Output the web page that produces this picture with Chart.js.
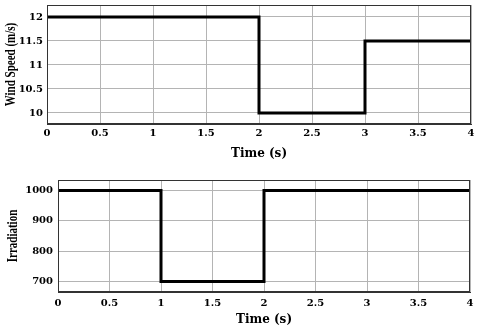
<!DOCTYPE html>
<html>
<head>
<meta charset="utf-8">
<script src="https://cdn.jsdelivr.net/npm/chart.js@4"></script>
<style>
  body { margin: 0; background: #fff; }
  .box { position: absolute; left: 0; width: 480px; }
</style>
</head>
<body>
<div class="box" style="top:0;height:165px"><canvas id="windChart"></canvas></div>
<div class="box" style="top:170px;height:158px"><canvas id="irrChart"></canvas></div>
<script>
// step profiles (time in s)
let windTimes = [0, 2, 2, 3, 3, 4];
let windSpeed = [12, 12, 10, 10, 11.5, 11.5];
let irrTimes = [0, 1, 1, 2, 2, 4];
let irradiation = [1000, 1000, 700, 700, 1000, 1000];
let timeTicks = [0, 0.5, 1, 1.5, 2, 2.5, 3, 3.5, 4];

function toPoints(xs, ys){
  let pts = [];
  for(let i = 0; i < xs.length; i++){
    pts.push({x: xs[i], y: ys[i]});
  }
  return pts;
}

let tickFont = {family: 'DejaVu Serif', weight: 'bold', size: 10};
let titleFont = {family: 'DejaVu Serif', weight: 'bold', size: 12};

// y title drawn by hand so it can be stretched like the original picture
let yTitle = {
  id: 'yTitle',
  afterDraw: function(c, args, opts){
    let a = c.chartArea, ctx = c.ctx;
    ctx.save();
    ctx.translate(opts.x, (a.top + a.bottom) / 2);
    ctx.rotate(-Math.PI / 2);
    ctx.scale(1, 1.4);
    ctx.font = 'bold 11px "Liberation Serif"';
    ctx.fillStyle = '#000';
    ctx.textAlign = 'center';
    ctx.textBaseline = 'middle';
    ctx.fillText(opts.text, 0, 0);
    ctx.restore();
  }
};

let frame = {
  id: 'frame',
  afterDraw: function(c){
    let a = c.chartArea, ctx = c.ctx;
    ctx.save();
    ctx.strokeStyle = '#333';
    ctx.lineWidth = 1;
    ctx.strokeRect(a.left + 0.5, a.top + 0.5, a.right - a.left - 1, a.bottom - a.top - 1);
    ctx.restore();
  }
};

function makeChart(id, pts, yMin, yMax, yStep, title, cfg){
  return new Chart(document.getElementById(id).getContext('2d'), {
    type: 'line',
    data: {
      datasets: [{
        data: pts,
        borderColor: '#000',
        borderWidth: 3,
        pointRadius: 0,
        tension: 0
      }]
    },
    options: {
      responsive: true,
      maintainAspectRatio: false,
      animation: false,
      plugins: {legend: {display: false}, tooltip: {enabled: false}, yTitle: {text: title, x: cfg.titleX}},
      layout: {padding: cfg.pad},
      scales: {
        x: {
          type: 'linear',
          min: 0, max: 4,
          afterFit: function(s){ s.height = cfg.xHeight; s.paddingLeft = 0; s.paddingRight = 0; },
          afterBuildTicks: function(s){ s.ticks = timeTicks.map(v => ({value: v})); },
          ticks: {font: tickFont, color: '#000', padding: cfg.xPad, maxRotation: 0, callback: v => String(v)},
          grid: {color: '#b4b4b4', drawTicks: false},
          border: {color: '#333', width: 1},
          title: {display: true, text: 'Time (s)', font: titleFont, color: '#000', padding: {top: 0, bottom: cfg.titleBottom}}
        },
        y: {
          min: yMin, max: yMax,
          afterFit: function(s){ s.width = cfg.yWidth; s.paddingTop = 0; s.paddingBottom = 0; },
          ticks: {stepSize: yStep, includeBounds: false, font: tickFont, color: '#000', padding: cfg.yPad, callback: v => String(v)},
          grid: {color: '#b4b4b4', drawTicks: false},
          border: {color: '#333', width: 1}
        }
      }
    },
    plugins: [frame, yTitle]
  });
}

makeChart('windChart', toPoints(windTimes, windSpeed), 9.77, 12.25, 0.5, 'Wind Speed (m/s)',
  {yWidth: 47, xHeight: 41, pad: {top: 5, right: 9}, xPad: 3, yPad: 4, titleBottom: 4, titleX: 11});
makeChart('irrChart', toPoints(irrTimes, irradiation), 665, 1035, 100, 'Irradiation',
  {yWidth: 58, xHeight: 36, pad: {top: 10, right: 10}, xPad: 5, yPad: 5, titleBottom: 1, titleX: 13});
</script>
</body>
</html>
